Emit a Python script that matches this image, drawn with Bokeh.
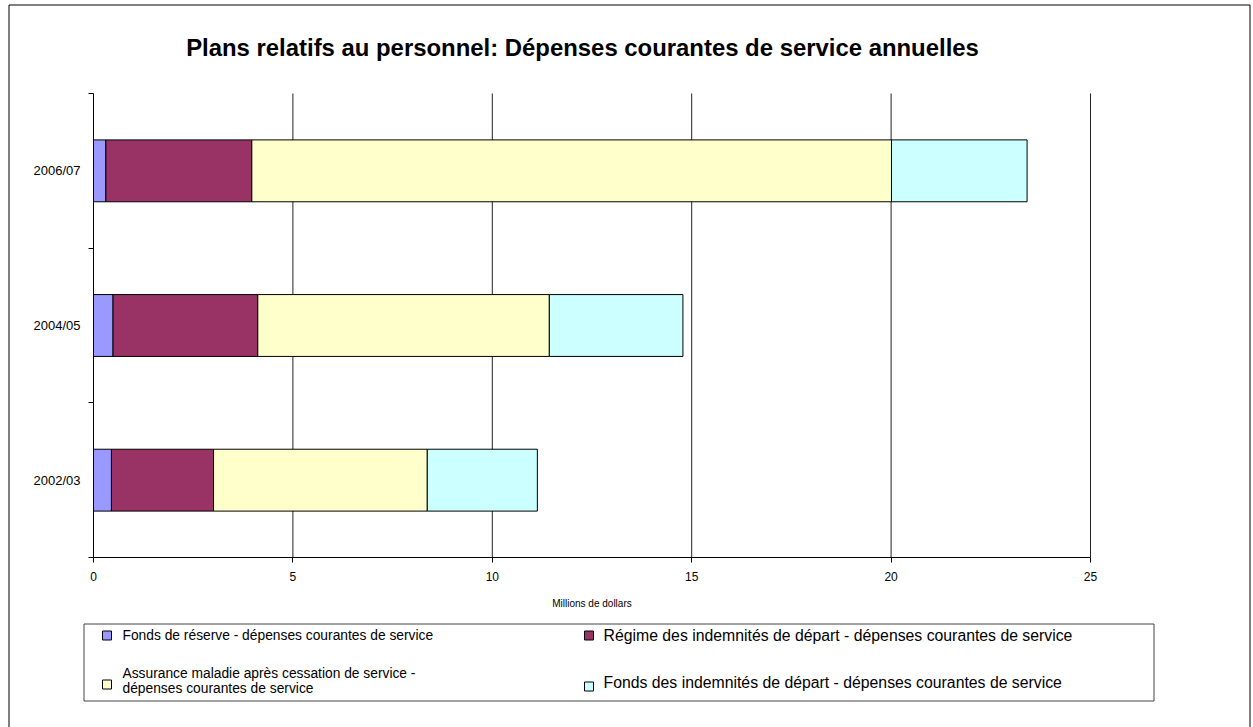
from bokeh.plotting import figure
from bokeh.models import (Range1d, FixedTicker, ColumnDataSource, Label, BoxAnnotation)
from bokeh.embed import file_html
from bokeh.resources import INLINE

# ---- data ----
years = ["2002/03", "2004/05", "2006/07"]
fonds_reserve = [0.45, 0.49, 0.31]
regime_indemnites = [2.56, 3.63, 3.66]
assurance_maladie = [5.36, 7.31, 16.04]
fonds_indemnites = [2.76, 3.35, 3.40]
x_ticks = [0, 5, 10, 15, 20, 25]
series_labels = [
    "Fonds de réserve - dépenses courantes de service",
    "Régime des indemnités de départ - dépenses courantes de service",
    "Assurance maladie après cessation de service -\ndépenses courantes de service",
    "Fonds des indemnités de départ - dépenses courantes de  service",
]
colors = ["#9999FF", "#993366", "#FFFFCC", "#CCFFFF"]
title_text = "Plans relatifs au personnel: Dépenses courantes de service annuelles"

# ---- layout (canvas pixels) ----
W, H = 1253, 727
PL, PR, PT, PB = 93, 1090, 93, 557      # plot area edges
XMIN, XMAX = 0, 25
YMIN, YMAX = -0.5, len(years) - 0.5
KX = (PR - PL) / (XMAX - XMIN)
KY = (PB - PT) / (YMAX - YMIN)
X0 = XMIN - PL / KX
X1 = XMIN + (W - PL) / KX
Y1 = YMAX + PT / KY
Y0 = YMAX - (H - PT) / KY


def dx(px):
    return X0 + px / KX


def dy(py):
    return Y1 - py / KY


FONT = "Liberation Sans"

p = figure(width=W, height=H, output_backend="svg", toolbar_location=None,
           x_range=Range1d(X0, X1), y_range=Range1d(Y0, Y1))
p.min_border = 0
p.min_border_left = 0
p.min_border_right = 0
p.min_border_top = 0
p.min_border_bottom = 0
p.outline_line_color = None
p.background_fill_color = "white"
p.border_fill_color = "white"
p.xgrid.visible = False
p.ygrid.visible = False

ypos = list(range(len(years)))

# vertical gridlines at the ticks (inside the plot area only)
grid_x = x_ticks[1:]
p.segment(x0=grid_x, y0=[YMIN] * len(grid_x), x1=grid_x, y1=[YMAX] * len(grid_x),
          line_color="#222222", line_width=1)

src = ColumnDataSource(dict(y=ypos, a=fonds_reserve, b=regime_indemnites,
                            c=assurance_maladie, d=fonds_indemnites))
p.hbar_stack(["a", "b", "c", "d"], y="y", height=0.4, source=src,
             color=colors, line_color="black", line_width=1)

# x axis
xa = p.xaxis[0]
xa.fixed_location = YMIN
xa.bounds = (XMIN, XMAX)
xa.ticker = FixedTicker(ticks=x_ticks)
xa.axis_line_color = "black"
xa.major_tick_line_color = "black"
xa.major_tick_out = 5
xa.major_tick_in = 0
xa.minor_tick_line_color = None
xa.major_label_text_font = FONT
xa.major_label_text_font_size = "12px"
xa.major_label_text_color = "black"
xa.major_label_standoff = 9
xa.axis_label = "Millions de dollars"
xa.axis_label_text_font = FONT
xa.axis_label_text_font_size = "10px"
xa.axis_label_text_font_style = "normal"
xa.axis_label_text_color = "black"
xa.axis_label_standoff = 14

# y axis
ya = p.yaxis[0]
ya.fixed_location = XMIN
ya.bounds = (YMIN, YMAX)
ya.ticker = FixedTicker(ticks=ypos, minor_ticks=[i - 0.5 for i in range(len(years) + 1)])
ya.major_label_overrides = {i: years[i] for i in ypos}
ya.axis_line_color = "black"
ya.major_tick_out = 0
ya.major_tick_in = 0
ya.major_tick_line_color = None
ya.minor_tick_out = 5
ya.minor_tick_in = 0
ya.minor_tick_line_color = "black"
ya.major_label_text_font = FONT
ya.major_label_text_font_size = "13px"
ya.major_label_text_color = "black"
ya.major_label_standoff = 8


def box(left, right, top, bottom, **kw):
    return BoxAnnotation(left=dx(left), right=dx(right), top=dy(top), bottom=dy(bottom), **kw)


# outer border
p.add_layout(box(8.5, 1249.5, 4.5, 760, fill_alpha=0, line_color="black",
                 line_alpha=1, line_width=1))

# title
p.add_layout(Label(x=dx(582), y=dy(47), text=title_text, text_font=FONT,
                   text_font_size="23.9px", text_font_style="bold", text_color="black",
                   text_align="center", text_baseline="middle"))

# legend
p.add_layout(box(83.5, 1153.5, 623.5, 700.5, fill_color="white", fill_alpha=1,
                 line_color="#444444", line_alpha=1, line_width=1))

legend_items = [
    (102, 635, 122, "13.8px", [(series_labels[0], 635)]),
    (584, 635, 603, "15.8px", [(series_labels[1], 635)]),
    (102, 684, 122, "13.8px", list(zip(series_labels[2].split("\n"), [673, 688]))),
    (584, 686, 603, "15.8px", [(series_labels[3], 682)]),
]
for i, (swx, swy, tx, fs, lines) in enumerate(legend_items):
    p.add_layout(box(swx, swx + 9, swy - 4.5, swy + 4.5, fill_color=colors[i], fill_alpha=1,
                     line_color="black", line_alpha=1, line_width=1))
    for t, yy in lines:
        p.add_layout(Label(x=dx(tx), y=dy(yy), text=t, text_font=FONT,
                           text_font_size=fs, text_color="black",
                           text_align="left", text_baseline="middle"))

open("out.html", "w").write(file_html(p, INLINE))
